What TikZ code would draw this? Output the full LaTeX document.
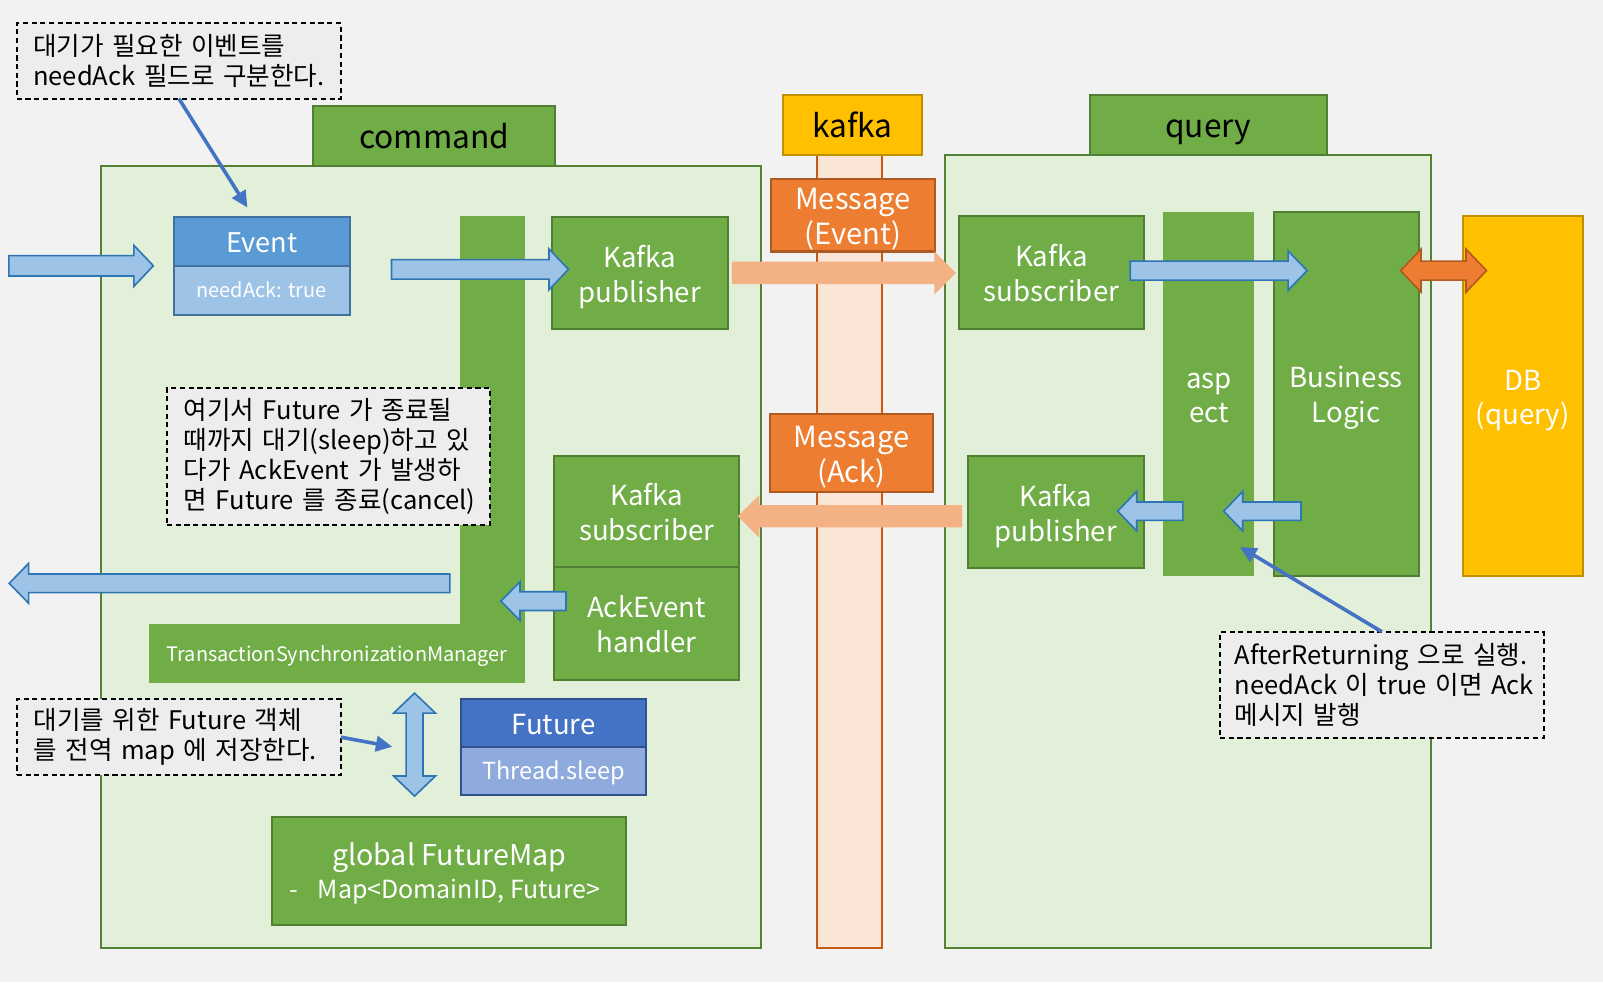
\documentclass[tikz,border=0pt]{standalone}
\usepackage{fontspec}
\setmainfont{Noto Sans CJK KR}
\usetikzlibrary{arrows.meta}
\definecolor{bgc}{HTML}{F2F2F2}
\definecolor{clight}{HTML}{E2F0D9}
\definecolor{cdark}{HTML}{548235}
\definecolor{gfill}{HTML}{70AD47}
\definecolor{gline}{HTML}{507E32}
\definecolor{yfill}{HTML}{FFC000}
\definecolor{yline}{HTML}{BF9000}
\definecolor{kcol}{HTML}{FBE5D6}
\definecolor{kline}{HTML}{C55A11}
\definecolor{ofill}{HTML}{ED7D31}
\definecolor{oline}{HTML}{AE5A21}
\definecolor{peach}{HTML}{F4B183}
\definecolor{lblue}{HTML}{9DC3E6}
\definecolor{bline}{HTML}{2E75B6}
\definecolor{evhead}{HTML}{5B9BD5}
\definecolor{evline}{HTML}{41719C}
\definecolor{fuhead}{HTML}{4472C4}
\definecolor{fubody}{HTML}{8FAADC}
\definecolor{fuline}{HTML}{2F528F}
\definecolor{notec}{HTML}{EDEDED}
\definecolor{pointc}{HTML}{4472C4}
\newcommand\ArrR[7]{\path[#1] (#2,{#4-#5}) -- ({#3-#7},{#4-#5}) -- ({#3-#7},{#4-#6}) -- (#3,#4) -- ({#3-#7},{#4+#6}) -- ({#3-#7},{#4+#5}) -- (#2,{#4+#5}) -- cycle;}
\newcommand\ArrL[7]{\path[#1] (#3,{#4-#5}) -- ({#2+#7},{#4-#5}) -- ({#2+#7},{#4-#6}) -- (#2,#4) -- ({#2+#7},{#4+#6}) -- ({#2+#7},{#4+#5}) -- (#3,{#4+#5}) -- cycle;}
\newcommand\ArrLR[7]{\path[#1] (#2,#4) -- ({#2+#7},{#4-#6}) -- ({#2+#7},{#4-#5}) -- ({#3-#7},{#4-#5}) -- ({#3-#7},{#4-#6}) -- (#3,#4) -- ({#3-#7},{#4+#6}) -- ({#3-#7},{#4+#5}) -- ({#2+#7},{#4+#5}) -- ({#2+#7},{#4+#6}) -- cycle;}
\newcommand\ArrUD[7]{\path[#1] (#2,#3) -- ({#2+#6},{#3+#7}) -- ({#2+#5},{#3+#7}) -- ({#2+#5},{#4-#7}) -- ({#2+#6},{#4-#7}) -- (#2,#4) -- ({#2-#6},{#4-#7}) -- ({#2-#5},{#4-#7}) -- ({#2-#5},{#3+#7}) -- ({#2-#6},{#3+#7}) -- cycle;}
\tikzset{
  nw/.style={anchor=north west, inner sep=0pt, outer sep=0pt},
  cont/.style={nw, draw=cdark, fill=clight, line width=2pt},
  tabbox/.style={nw, draw=gline, fill=gfill, line width=2pt, text=black, font=\fontsize{31}{36}\selectfont, text height=26pt, text depth=2pt},
  biglbl/.style={align=center, font=\fontsize{27}{34}\selectfont, text height=57pt, text depth=0pt},
  gbox/.style={nw, draw=gline, fill=gfill, line width=2pt, text=white, biglbl},
  gbar/.style={nw, fill=gfill, draw=none, text=white, biglbl},
  msgbox/.style={nw, draw=oline, fill=ofill, line width=2pt, text=white, biglbl, font=\fontsize{28.5}{34}\selectfont},
  ybox/.style={nw, draw=yline, fill=yfill, line width=2pt, biglbl},
  notebox/.style={nw, draw=black, fill=notec, line width=1.8pt, dash pattern=on 5pt off 3.5pt, align=left, font=\fontsize{25}{29.5}\selectfont},
  barrow/.style={fill=lblue, draw=bline, line width=1.6pt, line join=miter},
  parrow/.style={fill=peach, draw=none},
  oarrow/.style={fill=ofill, draw=oline, line width=1.6pt},
  pointer/.style={draw=pointc, line width=3.5pt, -{Triangle[length=16pt,width=15pt]}},
}
\begin{document}
\begin{tikzpicture}[x=1pt,y=-1pt]
\fill[bgc] (0,0) rectangle (1568,960.6);
\useasboundingbox (0,0) rectangle (1568,960.6);

% containers
\node[cont, minimum width=645.1, minimum height=765] (cmd) at (98.9,162) {};
\node[tabbox, minimum width=237, minimum height=58.3] (cmdtab) at (306.3,103.7) {command};
\node[cont, minimum width=475, minimum height=775.4] (qry) at (924.5,151.6) {};
\node[tabbox, minimum width=232, minimum height=59] (qrytab) at (1066,92.6) {query};
\node[nw, draw=kline, fill=kcol, line width=2pt, minimum width=64, minimum height=775] (kcolumn) at (799,152) {};
\node[tabbox, draw=yline, fill=yfill, minimum width=136, minimum height=59] (kafkatab) at (766,93) {kafka};

% command side
\node[gbar, minimum width=64.5, minimum height=399.1] (vbar) at (449.5,211.3) {};
\node[gbar, minimum width=368.2, minimum height=58, font=\fontsize{19.5}{24}\selectfont, text height=15pt] (tsm) at (145.8,610.4) {TransactionSynchronizationManager};
\node[gbox, draw=evline, fill=evhead, minimum width=172, minimum height=48.2, font=\fontsize{26.5}{32}\selectfont, text height=21pt] (evh) at (170,212) {Event};
\node[gbox, draw=evline, fill=lblue, minimum width=172, minimum height=47.8, font=\fontsize{19.5}{24}\selectfont, text height=14.2pt] (evb) at (170,260.2) {needAck: true};
\node[gbox, minimum width=172.3, minimum height=110] (kpub1) at (539.7,212) {Kafka\\publisher};
\node[gbox, minimum width=181, minimum height=108.3] (ksub1) at (542,446) {Kafka\\subscriber};
\node[gbox, minimum width=181, minimum height=110.7] (ackh) at (542,554.3) {AckEvent\\handler};
\node[gbox, draw=fuline, fill=fuhead, minimum width=181.2, minimum height=47.2, font=\fontsize{27}{32}\selectfont, text height=22pt] (fuh) at (450.8,683.8) {Future};
\node[gbox, draw=fuline, fill=fubody, minimum width=181.2, minimum height=46.7, font=\fontsize{23}{28}\selectfont, text height=17pt] (fub) at (450.8,731) {Thread.sleep};
\node[gbox, minimum width=346.6, minimum height=105.9, font=\fontsize{28}{32}\selectfont, text height=54pt] (fmap) at (266,798.9) {global FutureMap\\{\fontsize{24.4}{32}\selectfont \hspace{-8pt}-\hspace{19pt}Map<DomainID, Future>}};

% kafka messages
\node[msgbox, minimum width=161, minimum height=71] (msge) at (754,175) {Message\\(Event)};
\node[msgbox, minimum width=160, minimum height=76.6] (msga) at (753,405) {Message\\(Ack)};

% query side
\node[gbox, minimum width=181, minimum height=111] (ksub2) at (938,211) {Kafka\\subscriber};
\node[gbox, minimum width=172.4, minimum height=109.6] (kpub2) at (946.6,446) {Kafka\\publisher};
\node[gbar, minimum width=89, minimum height=355.5] (aspect) at (1138,207.5) {asp\\ect};
\node[gbox, minimum width=141.6, minimum height=356] (blogic) at (1246,207) {Business\\Logic};
\node[ybox, minimum width=117, minimum height=352, text=white] (db) at (1431,211) {DB\\(query)};

% block arrows
\ArrR{barrow}{8.7}{150}{260}{10}{20}{19}
\ArrR{barrow}{383}{556}{263.5}{9.5}{20}{19}
\ArrR{parrow}{716}{935}{267}{11}{21}{21}
\ArrR{barrow}{1105.6}{1278.6}{264.7}{9.3}{19.2}{18.6}
\ArrLR{oarrow}{1370}{1454}{264.7}{9.3}{21}{20}
\ArrL{barrow}{1197}{1272.6}{500}{9}{19.4}{18.6}
\ArrL{barrow}{1093.3}{1157}{500}{9}{19.4}{18.6}
\ArrL{parrow}{721.6}{941}{505}{10.8}{21}{21.3}
\ArrL{barrow}{490}{553.7}{588}{9.2}{19}{18.6}
\ArrL{barrow}{9}{440}{570.6}{9.1}{19.5}{19}
\ArrUD{barrow}{405.5}{678}{778.7}{8.3}{20.5}{19.6}

% notes
\node[notebox, minimum width=317.2, minimum height=73.7, text width=285.2, inner xsep=16pt] (n1) at (16.4,22.8) {\mbox{대기가 필요한 이벤트를}\\\mbox{needAck 필드로 구분한다.}};
\node[notebox, minimum width=315.9, minimum height=133.9, text width=282.9, inner xsep=16.5pt] (n2) at (163.4,379.7) {\mbox{여기서 Future 가 종료될}\\\mbox{때까지 대기(sleep)하고 있}\\\mbox{다가 AckEvent 가 발생하}\\\mbox{면 Future 를 종료(cancel)}};
\node[notebox, minimum width=317, minimum height=74.6, text width=284, inner xsep=16.5pt] (n3) at (16.5,683.8) {\mbox{대기를 위한 Future 객체}\\\mbox{를 전역 map 에 저장한다.}};
\node[notebox, minimum width=316.6, minimum height=103.6, text width=287.6, inner xsep=14.5pt] (n4) at (1193.4,618) {\mbox{AfterReturning 으로 실행.}\\\mbox{needAck 이 true 이면 Ack}\\\mbox{메시지 발행}};

% pointers
\coordinate (p1) at (242,203);
\coordinate (p3) at (383.7,730.4);
\coordinate (p4) at (1213,535);
\draw[pointer] (n1.south) -- (p1);
\draw[pointer] (n3.east) -- (p3);
\draw[pointer] (n4.north) -- (p4);
\end{tikzpicture}
\end{document}
